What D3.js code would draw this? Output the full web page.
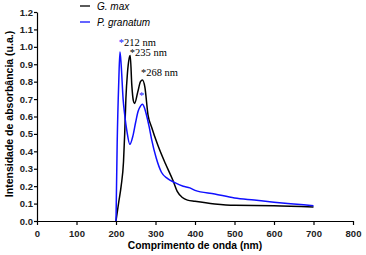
<!DOCTYPE html>
<html>
<head>
<meta charset="utf-8">
<script src="https://cdn.jsdelivr.net/npm/d3@7"></script>
<style>
  body { margin: 0; background: #fff; }
  svg { display: block; font-family: Arial, "Liberation Sans", sans-serif; }
  .axis path, .axis line { stroke: #000; stroke-width: 1.2; }
  .axis text { font-weight: bold; font-size: 9.5px; fill: #222; }
</style>
</head>
<body>
<div id="chart"></div>
<script>
// wavelength (nm) and absorbance
var granatumNm = [200, 203, 207, 210, 213, 218, 222, 228, 235, 243, 250, 256, 262, 267, 272, 277, 284, 290, 302, 315, 330, 349, 370, 387, 400, 450, 500, 550, 600, 650, 700]
var granatumAbs = [0, 0.45, 0.8, 0.97, 0.9, 0.7, 0.61, 0.51, 0.44, 0.49, 0.57, 0.63, 0.66, 0.67, 0.65, 0.61, 0.54, 0.47, 0.36, 0.28, 0.245, 0.22, 0.2, 0.19, 0.176, 0.155, 0.132, 0.12, 0.108, 0.098, 0.088]

var maxNm = [200, 207, 213, 219, 222, 225, 229, 233, 236, 240, 244, 247, 255, 262, 267, 273, 281, 290, 306, 325, 344, 355, 368, 381, 400, 450, 500, 600, 700]
var maxAbs = [0, 0.11, 0.2, 0.34, 0.5, 0.7, 0.85, 0.93, 0.95, 0.78, 0.69, 0.675, 0.74, 0.8, 0.81, 0.77, 0.61, 0.54, 0.435, 0.33, 0.234, 0.17, 0.135, 0.12, 0.113, 0.098, 0.09, 0.088, 0.08]

var xTicks = [0, 100, 200, 300, 400, 500, 600, 700, 800]
var yTicks = [0, 0.1, 0.2, 0.3, 0.4, 0.5, 0.6, 0.7, 0.8, 0.9, 1.0, 1.1, 1.2]

// peak annotations: label anchor in data units (nm, absorbance)
var peakLabels = ['212 nm', '235 nm', '268 nm']
var peakStarColor = ['blue', 'black', 'black']
var peakNm = [207, 235, 263]
var peakAt = [1.005, 0.947, 0.83]

var margin = { top: 12, right: 13, bottom: 34, left: 37 }
var width = 366, height = 255
var w = width - margin.left - margin.right
var h = height - margin.top - margin.bottom
var blue = '#1010ff'

var svg = d3.select('#chart').append('svg')
  .attr('width', width)
  .attr('height', height)

var g = svg.append('g')
  .attr('transform', 'translate(' + margin.left + ',' + margin.top + ')')

var x = d3.scaleLinear().domain([0, 800]).range([0, w])
var y = d3.scaleLinear().domain([0, 1.2]).range([h, 0])

var line = d3.line()
  .x(function (d) { return x(d[0]) })
  .y(function (d) { return y(d[1]) })
  .curve(d3.curveMonotoneX)

var series = [
  { name: 'G. max', color: '#000', pts: d3.zip(maxNm, maxAbs) },
  { name: 'P. granatum', color: blue, pts: d3.zip(granatumNm, granatumAbs) }
]

// axes
g.append('g')
  .attr('class', 'axis')
  .attr('transform', 'translate(0,' + h + ')')
  .call(d3.axisBottom(x).tickValues(xTicks).tickSize(4).tickSizeOuter(0).tickFormat(d3.format('d')))
  .selectAll('text').attr('dy', '0.9em')

g.append('g')
  .attr('class', 'axis')
  .call(d3.axisLeft(y).tickValues(yTicks).tickSize(3).tickSizeOuter(0).tickFormat(d3.format('.1f')))
  .selectAll('text').attr('x', -4)

// lines
series.forEach(function (s) {
  g.append('path')
    .datum(s.pts)
    .attr('fill', 'none')
    .attr('stroke', s.color)
    .attr('stroke-width', 1.5)
    .attr('stroke-linejoin', 'round')
    .attr('d', line)
})

// peak labels
var ann = g.append('g')
  .attr('font-family', '"Liberation Serif", "Times New Roman", serif')
  .attr('font-size', 10.5)
peakLabels.forEach(function (lab, i) {
  var t = ann.append('text').attr('x', x(peakNm[i])).attr('y', y(peakAt[i]))
  t.append('tspan').attr('fill', peakStarColor[i] === 'blue' ? blue : '#000').text('*')
  t.append('tspan').attr('fill', '#000').text(lab)
})
// small blue star over the P. granatum second peak
ann.append('text')
  .attr('x', x(265)).attr('y', y(0.7))
  .attr('fill', blue).attr('text-anchor', 'middle')
  .text('*')

// legend
var leg = svg.append('g').attr('transform', 'translate(80,6)')
series.forEach(function (s, i) {
  leg.append('line')
    .attr('x1', 0).attr('x2', 10)
    .attr('y1', i * 16).attr('y2', i * 16)
    .attr('stroke', s.color).attr('stroke-width', 1.3)
  leg.append('text')
    .attr('x', 17).attr('y', i * 16 + 4)
    .attr('font-size', 10).attr('font-style', 'italic')
    .text(s.name)
})

// axis titles
svg.append('text')
  .attr('x', margin.left + w / 2).attr('y', 249)
  .attr('text-anchor', 'middle')
  .attr('font-size', 10.3).attr('font-weight', 'bold')
  .text('Comprimento de onda (nm)')

svg.append('text')
  .attr('transform', 'translate(13,114) rotate(-90)')
  .attr('text-anchor', 'middle')
  .attr('font-size', 10.5).attr('font-weight', 'bold')
  .text('Intensidade de absorbância (u.a.)')
</script>
</body>
</html>
